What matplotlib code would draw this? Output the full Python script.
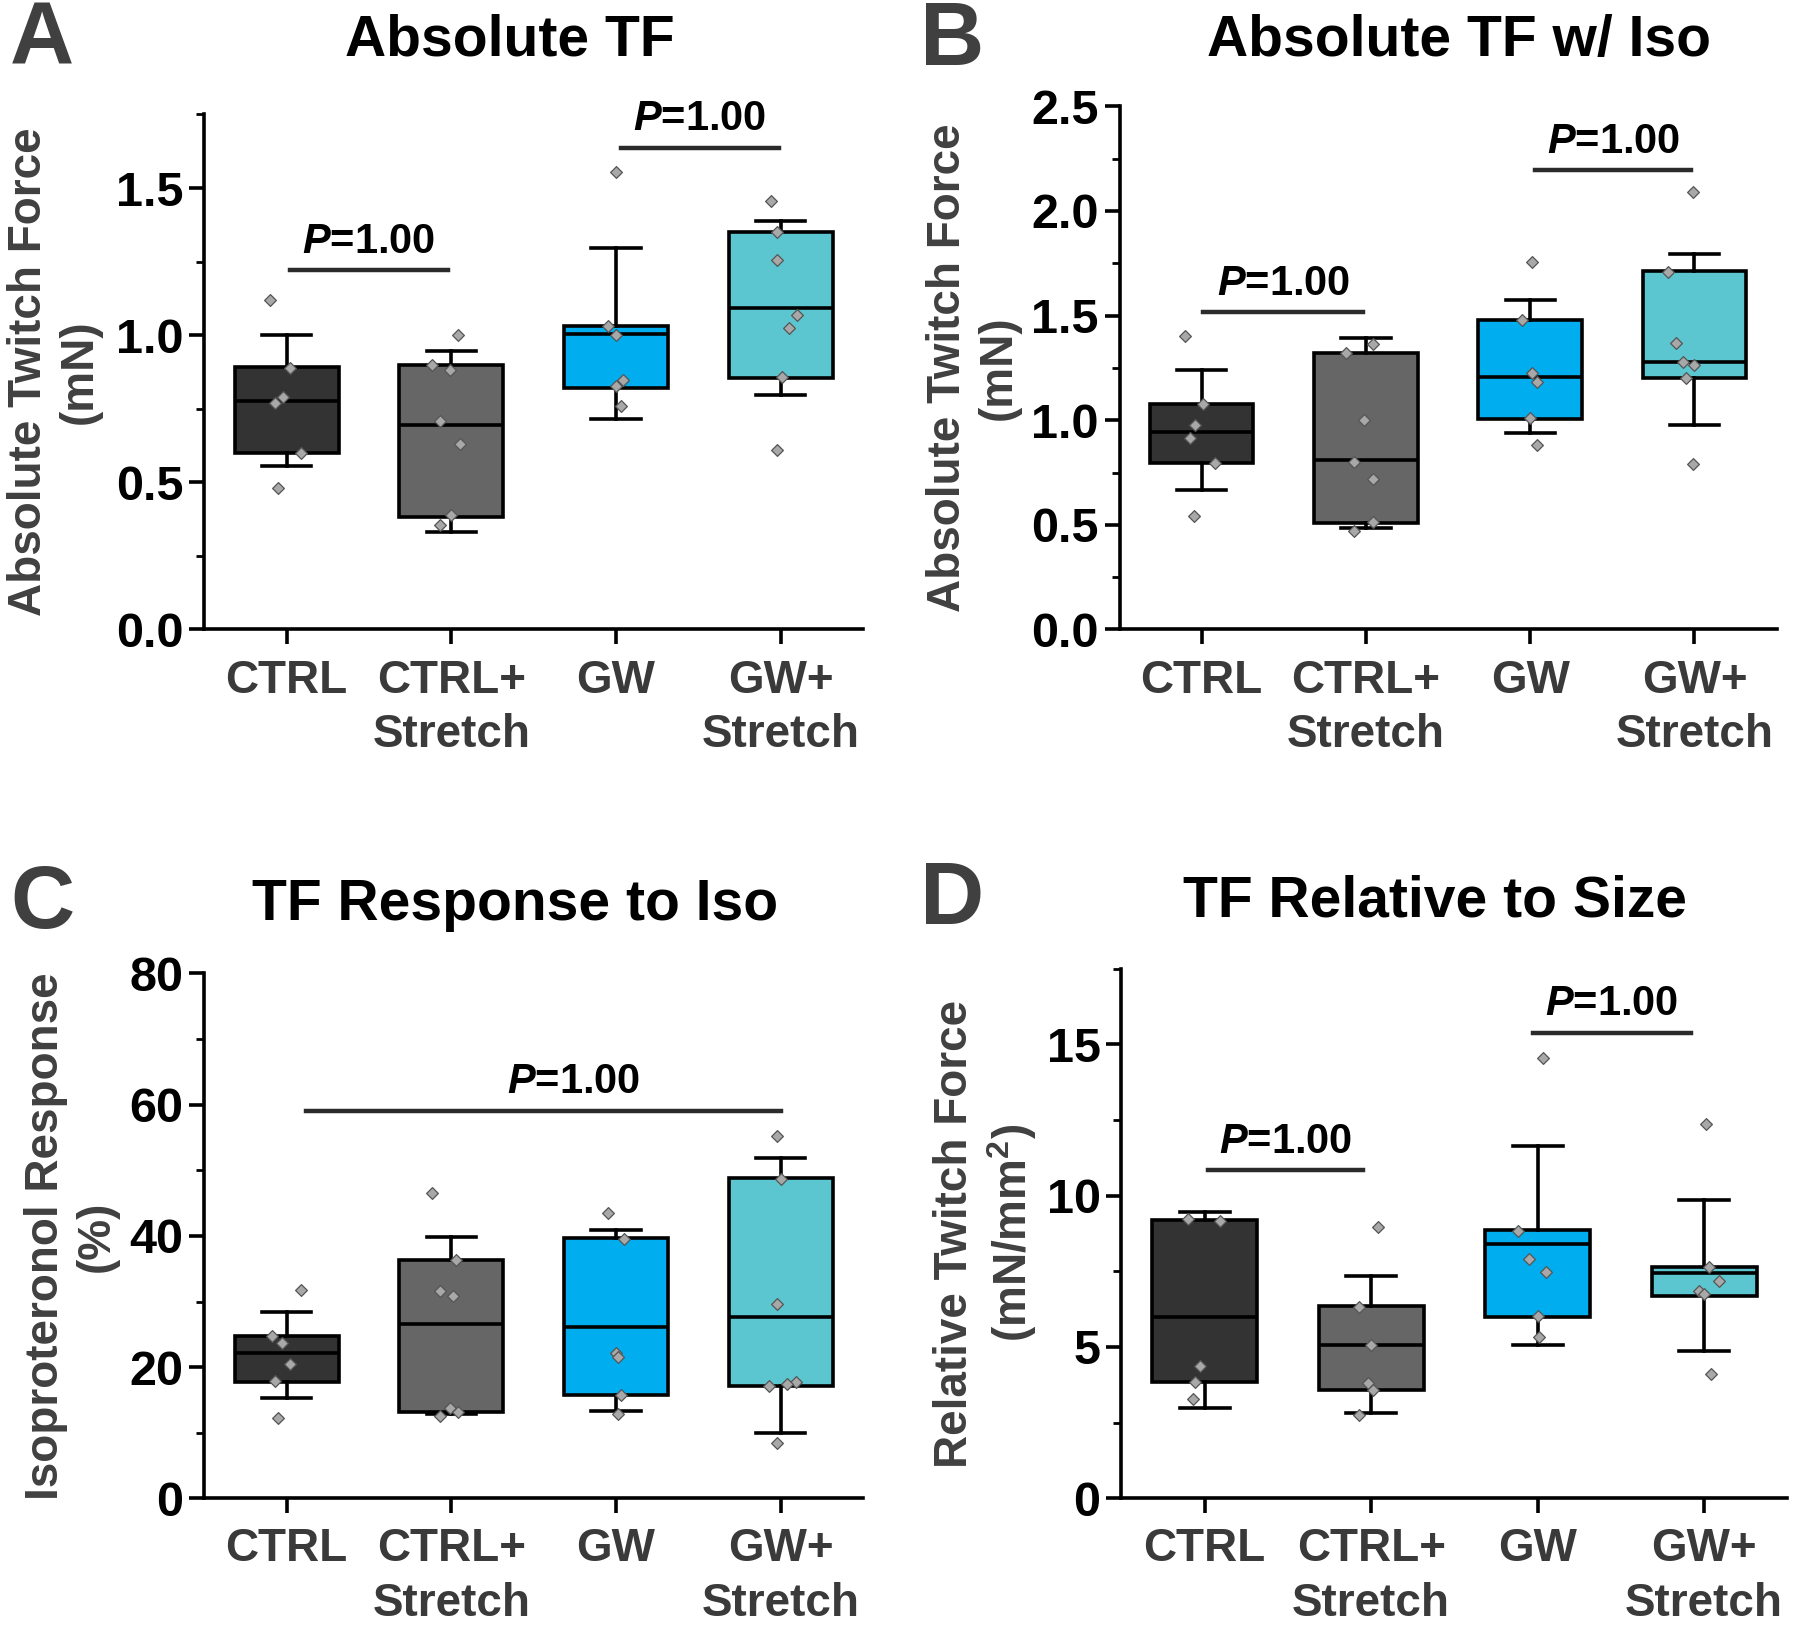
import numpy as np
import matplotlib.pyplot as plt

plt.rcParams['font.family'] = ['Liberation Sans', 'DejaVu Sans']
plt.rcParams['font.weight'] = 'bold'
plt.rcParams['mathtext.fontset'] = 'custom'
plt.rcParams['mathtext.rm'] = 'Liberation Sans:bold'
plt.rcParams['mathtext.bf'] = 'Liberation Sans:bold'
plt.rcParams['mathtext.bfit'] = 'Liberation Sans:bold:italic'

groups = ['CTRL', 'CTRL+\nStretch', 'GW', 'GW+\nStretch']
colors = ['#333333', '#666666', '#00aeef', '#5cc6d0']

# panel A - absolute twitch force (mN)
a_pts = [[1.12, 0.89, 0.79, 0.77, 0.60, 0.48],
         [1.00, 0.90, 0.88, 0.71, 0.63, 0.39, 0.355],
         [1.556, 1.03, 1.00, 0.846, 0.828, 0.76],
         [1.456, 1.349, 1.257, 1.069, 1.024, 0.857, 0.609]]
a_jit = [[-0.10, 0.02, -0.02, -0.07, 0.09, -0.05],
         [0.04, -0.12, -0.01, -0.07, 0.05, 0.0, -0.07],
         [0.0, -0.05, 0.0, 0.04, 0.0, 0.03],
         [-0.06, -0.02, -0.02, 0.10, 0.05, 0.01, -0.02]]
a_hi = [1.00, 0.947, 1.295, 1.387]
a_q3 = [0.891, 0.899, 1.030, 1.349]
a_med = [0.775, 0.695, 1.005, 1.091]
a_q1 = [0.601, 0.382, 0.819, 0.853]
a_lo = [0.554, 0.332, 0.714, 0.796]
a_sig = [(0.02, 0.98, 1.22, 0.5), (2.03, 2.99, 1.637, 2.51)]

# panel B - absolute twitch force with iso (mN)
b_pts = [[1.40, 1.077, 0.978, 0.914, 0.796, 0.544],
         [1.363, 1.321, 1.002, 0.80, 0.717, 0.514, 0.471],
         [1.755, 1.477, 1.224, 1.184, 1.010, 0.882],
         [2.089, 1.708, 1.368, 1.280, 1.263, 1.203, 0.792]]
b_jit = [[-0.10, 0.01, -0.04, -0.07, 0.08, -0.05],
         [0.04, -0.12, -0.01, -0.07, 0.04, 0.04, -0.07],
         [0.01, -0.05, 0.01, 0.04, 0.0, 0.04],
         [-0.01, -0.16, -0.11, -0.07, 0.0, -0.05, -0.01]]
b_hi = [1.241, 1.391, 1.575, 1.796]
b_q3 = [1.079, 1.321, 1.479, 1.714]
b_med = [0.944, 0.809, 1.205, 1.276]
b_q1 = [0.796, 0.507, 1.006, 1.203]
b_lo = [0.666, 0.486, 0.938, 0.976]
b_sig = [(0.01, 0.98, 1.515, 0.5), (2.03, 2.98, 2.194, 2.51)]

# panel C - isoproterenol response (%)
c_pts = [[31.8, 24.8, 23.6, 20.5, 17.9, 12.3],
         [46.5, 36.3, 31.6, 30.8, 13.7, 13.1, 12.5],
         [43.5, 39.6, 22.1, 21.5, 15.8, 12.9],
         [55.2, 48.6, 29.6, 17.7, 17.5, 17.1, 8.5]]
c_jit = [[0.09, -0.09, -0.03, 0.02, -0.07, -0.05],
         [-0.12, 0.03, -0.07, 0.01, -0.01, 0.04, -0.07],
         [-0.05, 0.05, 0.0, 0.01, 0.03, 0.01],
         [-0.02, 0.0, -0.02, 0.09, 0.04, -0.07, -0.02]]
c_hi = [28.4, 39.9, 40.9, 51.9]
c_q3 = [24.7, 36.4, 39.7, 48.8]
c_med = [22.1, 26.5, 26.1, 27.6]
c_q1 = [17.7, 13.2, 15.8, 17.1]
c_lo = [15.25, 12.9, 13.3, 10.0]
c_sig = [(0.12, 3.0, 59.1, 1.74)]

# panel D - relative twitch force (mN/mm2)
d_pts = [[9.24, 9.17, 4.36, 3.83, 3.28],
         [8.95, 6.33, 5.05, 3.80, 3.59, 2.74],
         [14.56, 8.84, 7.90, 7.46, 6.02, 5.34],
         [12.38, 7.65, 7.17, 6.86, 6.74, 4.11]]
d_jit = [[-0.10, 0.09, -0.03, -0.06, -0.07],
         [0.04, -0.07, 0.0, -0.02, 0.01, -0.07],
         [0.03, -0.12, -0.05, 0.05, 0.0, 0.01],
         [0.01, 0.03, 0.09, -0.03, 0.0, 0.04]]
d_hi = [9.46, 7.34, 11.63, 9.84]
d_q3 = [9.20, 6.36, 8.86, 7.65]
d_med = [5.99, 5.05, 8.40, 7.44]
d_q1 = [3.83, 3.58, 5.99, 6.69]
d_lo = [2.98, 2.81, 5.05, 4.88]
d_sig = [(0.02, 0.95, 10.85, 0.485), (1.97, 2.92, 15.38, 2.445)]


def draw_panel(ax, pts, jit, lo, q1, med, q3, hi, ylim, major, minor,
               ylabel, sigs, labx):
    stats = []
    for i in range(4):
        stats.append(dict(med=med[i], q1=q1[i], q3=q3[i],
                          whislo=lo[i], whishi=hi[i], fliers=[]))
    bp = ax.bxp(stats, positions=range(4), widths=0.63, capwidths=0.3,
                patch_artist=True, showfliers=False,
                boxprops=dict(linewidth=2.6, edgecolor='black'),
                medianprops=dict(linewidth=2.6, color='black'),
                whiskerprops=dict(linewidth=2.6, color='black'),
                capprops=dict(linewidth=2.6, color='black'))
    for patch, c in zip(bp['boxes'], colors):
        patch.set_facecolor(c)
    for i in range(4):
        ax.scatter(i + np.array(jit[i]), pts[i], marker='D', s=36,
                   c='#a8a8a8', edgecolors='#555555', linewidths=0.9,
                   zorder=5)

    for x0, x1, y, xt in sigs:
        ax.plot([x0, x1], [y, y], color='#2b2b2b', lw=3.2, clip_on=False)
        ax.annotate(r'$\bfit{P}$=1.00', xy=(xt, y),
                    xytext=(0, 6), textcoords='offset points',
                    ha='center', va='bottom', fontsize=30,
                    fontweight='bold')

    ax.set_xlim(-0.5, 3.5)
    ax.set_ylim(*ylim)
    ax.set_yticks(np.arange(ylim[0], ylim[1] + 1e-9, major))
    ax.set_yticks(np.arange(ylim[0], ylim[1] + 1e-9, minor), minor=True)
    ax.set_xticks(range(4))
    ax.set_xticklabels(groups, linespacing=1.3)
    ax.spines['top'].set_visible(False)
    ax.spines['right'].set_visible(False)
    ax.spines['left'].set_linewidth(2.6)
    ax.spines['bottom'].set_linewidth(2.6)
    ax.tick_params(axis='y', which='major', length=11, width=2.6,
                   labelsize=35, pad=4)
    ax.tick_params(axis='y', which='minor', length=6, width=2.0)
    ax.tick_params(axis='x', length=11, width=2.6, labelsize=33,
                   labelcolor='#3a3a3a', pad=10)
    ax.set_ylabel(ylabel, fontsize=33, fontweight='bold', color='#404040',
                  linespacing=1.2)
    ax.yaxis.set_label_coords(labx, 0.5)


fig = plt.figure(figsize=(18, 16.35), dpi=100)

ax_a = fig.add_axes([0.1135, 0.615, 0.366, 0.315])
ax_b = fig.add_axes([0.622, 0.615, 0.365, 0.320])
ax_c = fig.add_axes([0.1135, 0.0836, 0.366, 0.321])
ax_d = fig.add_axes([0.623, 0.0836, 0.370, 0.324])

draw_panel(ax_a, a_pts, a_jit, a_lo, a_q1, a_med, a_q3, a_hi,
           (0, 1.75), 0.5, 0.25, 'Absolute Twitch Force\n(mN)', a_sig, -0.155)
ax_a.set_yticks([0, 0.5, 1.0, 1.5])
ax_a.set_yticklabels(['0.0', '0.5', '1.0', '1.5'])
draw_panel(ax_b, b_pts, b_jit, b_lo, b_q1, b_med, b_q3, b_hi,
           (0, 2.5), 0.5, 0.25, 'Absolute Twitch Force\n(mN)', b_sig, -0.15)
ax_b.set_yticklabels(['0.0', '0.5', '1.0', '1.5', '2.0', '2.5'])
draw_panel(ax_c, c_pts, c_jit, c_lo, c_q1, c_med, c_q3, c_hi,
           (0, 80), 20, 10, 'Isoproteronol Response\n(%)', c_sig, -0.13)
draw_panel(ax_d, d_pts, d_jit, d_lo, d_q1, d_med, d_q3, d_hi,
           (0, 17.5), 5, 2.5, 'Relative Twitch Force\n(mN/mm$^{2}$)', d_sig, -0.124)
ax_d.set_yticks([0, 5, 10, 15])

titles = [('Absolute TF', 0.283, 0.975), ('Absolute TF w/ Iso', 0.8106, 0.975),
          ('TF Response to Iso', 0.2864, 0.4466),
          ('TF Relative to Size', 0.797, 0.4487)]
for t, x, y in titles:
    fig.text(x, y, t, ha='center', va='center', fontsize=41,
             fontweight='bold', color='black')

letters = [('A', 0.023, 0.9745), ('B', 0.529, 0.9745),
           ('C', 0.0236, 0.4466), ('D', 0.529, 0.449)]
for t, x, y in letters:
    fig.text(x, y, t, ha='center', va='center', fontsize=64,
             fontweight='bold', color='#404040')

fig.savefig('out.png', dpi=100)
